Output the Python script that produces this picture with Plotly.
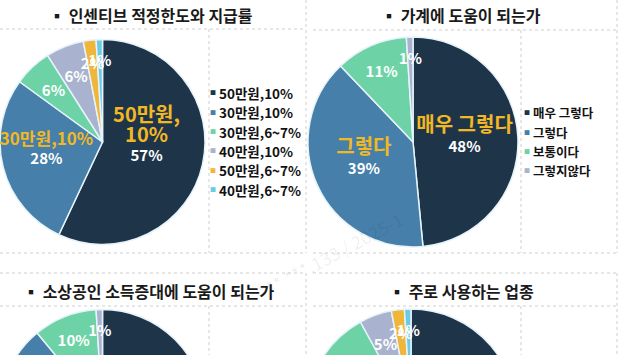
import plotly.graph_objects as go

W, H = 627, 560  # page is taller than the window; the bottom pies get cut like the reference

# ---------------- data ----------------
t1_title = "▪ 인센티브 적정한도와 지급률"
t1_labels = ["50만원,10%", "30만원,10%", "30만원,6~7%", "40만원,10%", "50만원,6~7%", "40만원,6~7%"]
t1_values = [57, 28, 6, 6, 2, 1]
t1_callout = ["50만원,<br>10%", "30만원,10%", "", "", "", ""]

t2_title = "▪ 가계에 도움이 되는가"
t2_labels = ["매우 그렇다", "그렇다", "보통이다", "그렇지않다"]
t2_values = [48, 39, 11, 1]
t2_callout = ["매우 그렇다", "그렇다", "", ""]

t3_title = "▪ 소상공인 소득증대에 도움이 되는가"
t3_labels = ["매우 그렇다", "그렇다", "보통이다", "그렇지않다"]
t3_values = [50, 39, 10, 1]
t3_callout = ["", "", "", ""]

t4_title = "▪ 주로 사용하는 업종"
t4_labels = ["음식점", "소매점", "생활서비스", "학원·교육", "의료·약국", "기타"]
t4_values = [55, 22, 15, 5, 2, 1]
t4_callout = ["", "", "", "", "", ""]

# ---------------- styles ----------------
colors6 = ["#1e3549", "#467fa9", "#6dd3a6", "#a9b3cf", "#f0b63a", "#6ccae3"]
colors4 = ["#1e3549", "#467fa9", "#6dd3a6", "#a9b3cf"]
t1_callout_size = [20, 17]
t2_callout_size = [20, 20]
GOLD = "#f2b824"
FONT = "Noto Sans CJK KR"
SMALL = 10          # slices below this share get their label on an inner ring
INNER = 0.83        # radius of that inner label ring, relative to the pie
PAD = "<br><span style='color:rgba(0,0,0,0)'>.</span>"  # invisible line: lifts callout block a little


def px_x(v):
    return v / W


def px_y(v):
    return 1 - v / H


def big_text(callouts, sizes, values):
    out = []
    for i, (c, v) in enumerate(zip(callouts, values)):
        if v < SMALL:
            out.append("")
            continue
        if c:
            out.append(f"<span style='color:{GOLD};font-size:{sizes[i]}px'>{c}</span><br>{v}%{PAD}")
        else:
            out.append(f"{v}%")
    return out


def small_text(values):
    return [f"{v}%" if v < SMALL else "" for v in values]


def pie(labels, values, text, colors, cx, cy, r, visible_marker=True):
    return go.Pie(
        labels=labels, values=values,
        text=text,
        texttemplate="%{text}", textposition="inside",
        insidetextorientation="horizontal",
        textfont=dict(family=FONT, size=15, color="white", weight="bold"),
        marker=dict(colors=colors if visible_marker else ["rgba(0,0,0,0)"] * len(values),
                    line=dict(color="#e6f3fa" if visible_marker else "rgba(0,0,0,0)", width=1.5)),
        sort=False, direction="clockwise", rotation=0,
        showlegend=False,
        hoverinfo="label+percent" if visible_marker else "skip",
        domain=dict(x=[px_x(cx - r), px_x(cx + r)], y=[px_y(cy + r), px_y(cy - r)]),
    )


fig = go.Figure()
panels = [
    (t1_labels, t1_values, t1_callout, t1_callout_size, colors6, 102.5, 142, 102.5),
    (t2_labels, t2_values, t2_callout, t2_callout_size, colors4, 413, 142, 105),
    (t3_labels, t3_values, t3_callout, [], colors4, 102.5, 412, 102.5),
    (t4_labels, t4_values, t4_callout, [], colors6, 411, 414, 105),
]
for labels, values, callouts, sizes, cols, cx, cy, r in panels:
    fig.add_trace(pie(labels, values, big_text(callouts, sizes, values), cols, cx, cy, r))
    fig.add_trace(pie(labels, values, small_text(values), cols, cx, cy, r * INNER, visible_marker=False))

ann = []
# titles
for txt, cx, cy in [(t1_title, 151, 15), (t2_title, 461, 15), (t3_title, 149, 291), (t4_title, 461, 291)]:
    ann.append(dict(text=f"<b>{txt}</b>", x=px_x(cx), y=px_y(cy), xref="paper", yref="paper",
                    showarrow=False, xanchor="center", yanchor="middle",
                    font=dict(family=FONT, size=16, color="#1a1a1a")))


# legends (top two panels)
def legend(labels, colors, bx, y0, dy, size):
    for i, (lab, c) in enumerate(zip(labels, colors)):
        y = y0 + i * dy
        ann.append(dict(text="■", x=px_x(bx), y=px_y(y), xref="paper", yref="paper", showarrow=False,
                        xanchor="center", yanchor="middle", font=dict(family=FONT, size=6, color=c)))
        ann.append(dict(text=f"<b>{lab}</b>", x=px_x(bx + 4), y=px_y(y), xref="paper", yref="paper",
                        showarrow=False, xanchor="left", yanchor="middle",
                        font=dict(family=FONT, size=size, color="#111111")))


legend(t1_labels, colors6, 213, 93, 19.3, 13.5)
legend(t2_labels, colors4, 527, 113, 19.2, 12.5)

# faint watermark
ann.append(dict(text="*** ***.133 / 2025-1", x=px_x(330), y=px_y(255), xref="paper", yref="paper",
                showarrow=False, textangle=-28, font=dict(family=FONT, size=18, color="rgba(0,0,0,0.07)")))
fig.update_layout(annotations=ann)

# panel separators
LC = "#cfcfcf"


def hline(x0, x1, y):
    fig.add_shape(type="line", xref="paper", yref="paper", x0=px_x(x0), x1=px_x(x1), y0=px_y(y), y1=px_y(y),
                  line=dict(color=LC, width=1, dash="dot"))


def vline(x, y0, y1):
    fig.add_shape(type="line", xref="paper", yref="paper", x0=px_x(x), x1=px_x(x), y0=px_y(y0), y1=px_y(y1),
                  line=dict(color=LC, width=1, dash="dot"))


hline(0, 306, 29); hline(313, 617, 30)
hline(0, 306, 253); hline(313, 617, 253)
hline(0, 306, 273); hline(313, 617, 273)
hline(0, 306, 306); hline(313, 617, 306)
vline(209, 29, 253); vline(306, 0, 253)
vline(521, 30, 253); vline(617, 0, 253)
vline(209, 306, H); vline(306, 273, H)
vline(521, 306, H); vline(617, 273, H)

fig.update_layout(
    width=W, height=H, margin=dict(l=0, r=0, t=0, b=0),
    paper_bgcolor="white", plot_bgcolor="white",
    uniformtext=dict(mode="show", minsize=15),
    font=dict(family=FONT),
)

fig.write_html("out.html", post_script="document.body.style.margin='0';document.body.style.overflow='hidden';")
